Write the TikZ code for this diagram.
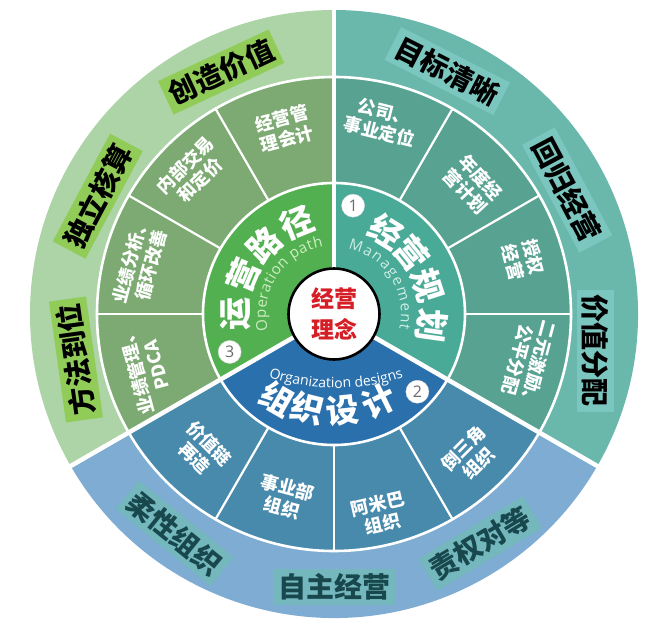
\documentclass[tikz,border=0pt]{standalone}
\usepackage{fontspec}
\newfontfamily\cjk{Noto Sans CJK SC}
\newfontfamily\latin{Open Sans}
\usetikzlibrary{decorations.text}

\definecolor{opIn}{RGB}{82,176,80}
\definecolor{opMid}{RGB}{124,170,114}
\definecolor{opOut}{RGB}{172,212,166}
\definecolor{opTag}{RGB}{146,204,88}
\definecolor{opLatin}{RGB}{205,238,195}
\definecolor{mgIn}{RGB}{74,170,152}
\definecolor{mgMid}{RGB}{88,162,146}
\definecolor{mgOut}{RGB}{106,184,172}
\definecolor{mgTag}{RGB}{124,198,192}
\definecolor{mgLatin}{RGB}{205,238,228}
\definecolor{orIn}{RGB}{42,112,172}
\definecolor{orMid}{RGB}{72,138,172}
\definecolor{orOut}{RGB}{126,172,210}
\definecolor{orTag}{RGB}{116,184,190}
\definecolor{orText}{RGB}{24,72,78}
\definecolor{coreRed}{RGB}{214,30,38}

\tikzset{
  sepline/.style={white, line width=4.5pt},
  ringline/.style={white, line width=2.6pt},
  cellline/.style={white, line width=2.2pt},
  celltext/.style={text=white, font=\cjk\bfseries\fontsize{18}{21}\selectfont, align=center, inner sep=0pt},
  tagbox/.style={font=\cjk\bfseries\fontsize{28}{28}\selectfont, inner xsep=5pt, inner ysep=5pt},
  bigchar/.style={text=white, font=\cjk\bfseries\fontsize{33}{33}\selectfont, inner sep=0pt},
  numdot/.style={circle, fill=white, draw=gray!30, minimum size=23pt, inner sep=0pt, text=gray!85!black, font=\latin\fontsize{16}{16}\selectfont},
  corebox/.style={circle, fill=white, draw=black, line width=2.6pt, minimum size=91pt, inner sep=0pt, align=center, text=coreRed, font=\cjk\bfseries\fontsize{23}{31}\selectfont},
}

\begin{document}
\begin{tikzpicture}[x=1pt,y=1pt]
\useasboundingbox (-334,-323) rectangle (326,314);
\fill[white] (-334,-323) rectangle (326,314);

% Sector
\fill[opOut] (0,0) -- (90:304) arc (90:210:304) -- cycle;
\fill[opMid] (0,0) -- (90:237) arc (90:210:237) -- cycle;
\fill[opIn] (0,0) -- (90:131) arc (90:210:131) -- cycle;
% Sector
\fill[mgOut] (0,0) -- (-30:304) arc (-30:90:304) -- cycle;
\fill[mgMid] (0,0) -- (-30:237) arc (-30:90:237) -- cycle;
\fill[mgIn] (0,0) -- (-30:131) arc (-30:90:131) -- cycle;
% Sector
\fill[orOut] (0,0) -- (210:304) arc (210:330:304) -- cycle;
\fill[orMid] (0,0) -- (210:237) arc (210:330:237) -- cycle;
\fill[orIn] (0,0) -- (210:131) arc (210:330:131) -- cycle;

% Ring
\draw[ringline] (0,0) circle (131);
\draw[ringline] (0,0) circle (237);
% Cell line
\draw[cellline] (120:131) -- (120:237);
\draw[cellline] (150:131) -- (150:237);
\draw[cellline] (180:131) -- (180:237);
\draw[cellline] (0:131) -- (0:237);
\draw[cellline] (30:131) -- (30:237);
\draw[cellline] (60:131) -- (60:237);
\draw[cellline] (240:131) -- (240:237);
\draw[cellline] (270:131) -- (270:237);
\draw[cellline] (300:131) -- (300:237);
% Separator
\draw[sepline] (0,0) -- (90:308);
\draw[sepline] (0,0) -- (210:308);
\draw[sepline] (0,0) -- (330:308);

% Text Node
\node[tagbox, fill=opTag, rotate=25] (chuangzao) at (115:267) {创造价值};
% Text Node
\node[tagbox, fill=opTag, rotate=62] (duli) at (153.5:264) {独立核算};
% Text Node
\node[tagbox, fill=opTag, rotate=98] (fangfa) at (190:262) {方法到位};
% Text Node
\node[tagbox, fill=mgTag, rotate=-27] (mubiao) at (65:268) {目标清晰};
% Text Node
\node[tagbox, fill=mgTag, rotate=-62] (huigui) at (28:264) {回归经营};
% Text Node
\node[tagbox, fill=mgTag, rotate=-90] (jiazhi) at (-8:264) {价值分配};
% Text Node
\node[tagbox, fill=orTag, text=orText, rotate=-39] (rouxing) at (234:271) {柔性组织};
% Text Node
\node[tagbox, fill=orTag, text=orText] (zizhu) at (270:273) {自主经营};
% Text Node
\node[tagbox, fill=orTag, text=orText, rotate=31] (zequan) at (-57.5:272) {责权对等};

% Text Node
\node[celltext, rotate=15] (kuaiji) at (105:192) {经营管\\理会计};
% Text Node
\node[celltext, rotate=45] (neibu) at (135:200) {内部交易\\和定价};
% Text Node
\node[celltext, rotate=75] (fenxi) at (165:200) {业绩分析、\\循环改善};
% Text Node
\node[celltext, rotate=105] (pdca) at (196:196) {业绩管理、\\PDCA};
% Text Node
\node[celltext, rotate=-14] (dingwei) at (76:198) {公司、\\事业定位};
% Text Node
\node[celltext, rotate=-47] (niandu) at (43:190) {年度经\\营计划};
% Text Node
\node[celltext, rotate=-75] (shouquan) at (16:197) {授权\\经营};
% Text Node
\node[celltext, rotate=-105] (jili) at (-14:200) {二元激励、\\公平分配};
% Text Node
\node[celltext, rotate=45] (daosanjiao) at (-46:197) {倒三角\\组织};
% Text Node
\node[celltext, rotate=13] (amiba) at (283:205) {阿米巴\\组织};
% Text Node
\node[celltext, rotate=-15] (shiyebu) at (255:190) {事业部\\组织};
% Text Node
\node[celltext, rotate=-45] (jiazhilian) at (226:190) {价值链\\再造};

% Text Node
\node[bigchar, rotate=90] (yun) at (180:98) {运};
\node[bigchar, rotate=67] (ying) at (157:98) {营};
\node[bigchar, rotate=45] (lu) at (135:98) {路};
\node[bigchar, rotate=22] (jing) at (112:98) {径};
% Text Node
\node[bigchar, rotate=-32] (jing2) at (58:98) {经};
\node[bigchar, rotate=-51] (ying2) at (38:98) {营};
\node[bigchar, rotate=-72] (gui) at (17:98) {规};
\node[bigchar, rotate=-98] (hua) at (-7:98) {划};
% Text Node
\node[bigchar, rotate=-30] (zu) at (236.5:102) {组};
\node[bigchar, rotate=-14] (zhi) at (254.5:98) {织};
\node[bigchar, rotate=6] (she) at (275:97) {设};
\node[bigchar, rotate=26] (ji) at (297:98) {计};

% Arc Text
\path[decorate, decoration={text along path, text align={fit to path}, text color=opLatin,
  text={|\latin\fontsize{15}{15}\selectfont|Operation path}}] (194:68) arc (194:99:68);
% Arc Text
\path[decorate, decoration={text along path, text align={fit to path}, text color=mgLatin,
  text={|\latin\fontsize{15}{15}\selectfont|Management}}] (78:67) arc (78:-13:67);
% Arc Text
\path[decorate, decoration={text along path, text align=center, text color=white,
  text={|\latin\fontsize{14}{14}\selectfont|Organization designs}}] ([shift={(2,139)}]240:213) arc (240:300:213);

% Number
\node[numdot] (one) at (80:110) {1};
\node[numdot] (two) at (-43:114) {2};
\node[numdot] (three) at (200:111) {3};

% Core
\node[corebox] (core) at (0,0) {经营\\理念};

\end{tikzpicture}
\end{document}
